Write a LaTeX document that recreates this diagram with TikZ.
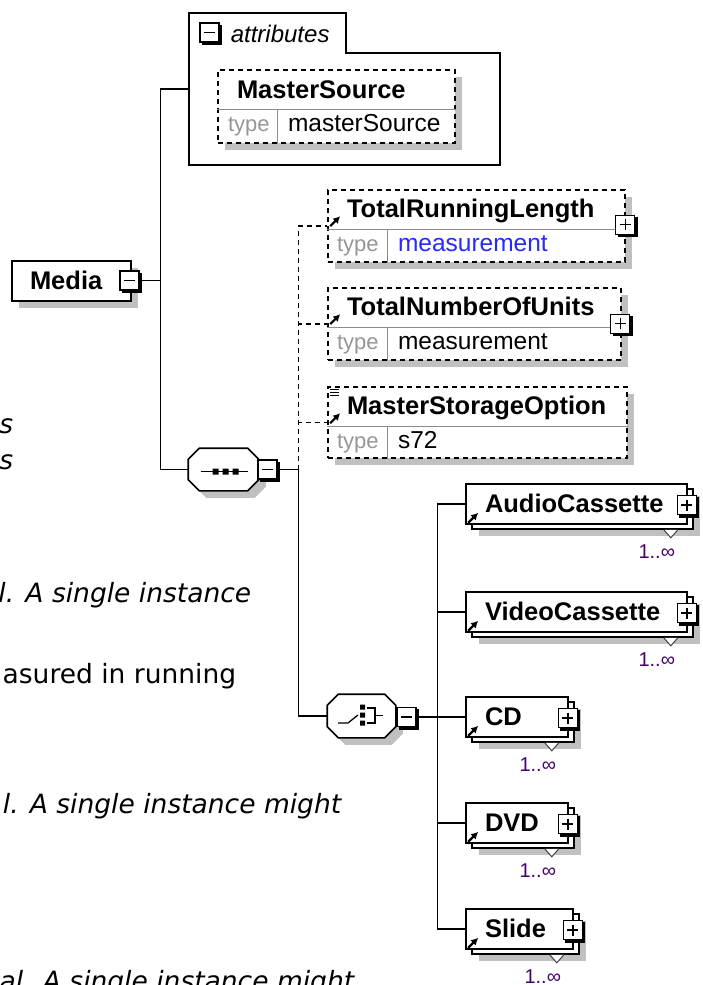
\documentclass[tikz,border=0pt]{standalone}
\usepackage{fontspec}
\setmainfont{Liberation Sans}
\newfontfamily\verdfont{DejaVu Sans}
\usetikzlibrary{arrows.meta,positioning,calc}

\definecolor{shade}{RGB}{192,192,192}
\definecolor{keygray}{RGB}{150,150,150}
\definecolor{rulegray}{RGB}{140,140,140}
\definecolor{typeblue}{RGB}{40,40,255}
\definecolor{cardpurple}{RGB}{70,0,110}

\begin{document}
\begin{tikzpicture}[
  x=1pt, y=-1pt,
  line width=1.6pt,
  shadowed/.style={preaction={fill=shade, draw=none, transform canvas={shift={(7pt,-7pt)}}}},
  box/.style={draw, fill=white, inner sep=0pt, shadowed},
  optbox/.style={box, dash pattern=on 5pt off 4pt},
  multibox/.style={
    draw, fill=white, inner sep=0pt, minimum height=40pt,
    preaction={fill=shade, draw=none, transform canvas={shift={(13pt,-12pt)}}},
    preaction={fill=white, draw=black, line width=1.6pt, transform canvas={shift={(6pt,-5pt)}}}
  },
  group/.style={inner sep=0pt, minimum height=41pt},
  octagon/.style={draw, fill=white, shadowed},
  icon/.style={
    draw, fill=white, line width=1.3pt, minimum size=19pt, inner sep=0pt,
    preaction={fill=black, draw=black, transform canvas={shift={(2.5pt,-2.5pt)}}}
  },
  minus/.style={icon, path picture={
    \draw[line width=1.5pt] ([xshift=4pt]path picture bounding box.west) -- ([xshift=-4pt]path picture bounding box.east);}},
  plus/.style={icon, path picture={
    \draw[line width=1.5pt] ([xshift=4pt]path picture bounding box.west) -- ([xshift=-4pt]path picture bounding box.east)
      ([yshift=-4pt]path picture bounding box.north) -- ([yshift=4pt]path picture bounding box.south);}},
  elname/.style={anchor=base west, inner sep=0pt, font=\fontsize{25.5}{28}\selectfont\bfseries},
  typekey/.style={anchor=base west, inner sep=0pt, text=keygray, font=\fontsize{22}{24}\selectfont},
  typeval/.style={anchor=base west, inner sep=0pt, font=\fontsize{24.5}{26}\selectfont},
  card/.style={anchor=base, inner sep=0pt, text=cardpurple, font=\fontsize{20}{22}\selectfont},
  stray/.style={anchor=base east, inner sep=0pt, font=\verdfont\fontsize{26.5}{30}\selectfont\itshape},
  rule/.style={draw=rulegray, line width=1pt},
  ref/.style={-{Latex[length=7pt,width=7.5pt]}, line width=2.2pt},
  tri/.style={draw=darkgray, fill=white, line width=1pt},
  link/.style={dash pattern=on 5pt off 4pt}
]
  \useasboundingbox (0,0) rectangle (702,985);
  \clip (0,0) rectangle (702,985);

  % text of the page behind
  \node[stray] (frag1) at (14,433) {s};
  \node[stray] (frag2) at (14,469) {s};
  \node[stray] (frag3) at (252,602) {l. A single instance};
  \node[stray, font=\verdfont\fontsize{26.5}{30}\selectfont] (frag4) at (237,683) {asured in running};
  \node[stray] (frag5) at (342,813) {l. A single instance might};
  \node[stray] (frag6) at (355,990) {al. A single instance might};

  % root
  \node[box, minimum width=119pt, minimum height=40pt] (media) at (71.5,281) {};
  \node[elname] (mediaName) at ($(media.north west)+(18,29)$) {Media};
  \node[minus] (mediaToggle) at (129.5,280.5) {};

  % attributes
  \node[inner sep=0pt, minimum width=309pt, minimum height=150pt] (attrs) at (344.5,89) {};
  \node[inner sep=0pt, minimum width=155pt, minimum height=38pt] (attrTab) at (267.5,33) {};
  \draw (attrs.south west) -- (attrs.north west) -- (attrTab.north east) -- (attrTab.south east)
    -- (attrTab.south east -| attrs.east) -- (attrs.south east) -- cycle;
  \node[minus] (attrToggle) at (209.5,32.5) {};
  \node[anchor=base west, inner sep=0pt, font=\fontsize{24}{26}\selectfont\itshape] (attrLabel) at (230,42.5) {attributes};

  \node[optbox, minimum width=237pt, minimum height=73pt] (msrc) at (336.5,106.5) {};
  \node[elname] (msrcName) at ($(msrc.north west)+(19,29)$) {MasterSource};
  \draw[rule] ($(msrc.north west)+(0,40)$) -- ($(msrc.north east)+(0,40)$);
  \draw[rule] ($(msrc.north west)+(60,40)$) -- ($(msrc.south west)+(60,0)$);
  \node[typekey] (msrcKey) at ($(msrc.north west)+(10,62.5)$) {type};
  \node[typeval] (msrcVal) at ($(msrc.north west)+(70,62.5)$) {masterSource};

  % sequence
  \node[group, minimum width=69pt] (seq) at (223.5,469.5) {};
  \draw[octagon] ([xshift=11pt]seq.north west) -- ([xshift=-11pt]seq.north east) -- ([yshift=-11pt]seq.north east)
    -- ([yshift=11pt]seq.south east) -- ([xshift=-11pt]seq.south east) -- ([xshift=11pt]seq.south west)
    -- ([yshift=11pt]seq.south west) -- ([yshift=-11pt]seq.north west) -- cycle;
  \draw[line width=1.3pt] ($(seq)+(-23,2)$) -- ($(seq)+(24,2)$);
  \fill ($(seq)+(-11,-1)$) rectangle ++(6,6) ($(seq)+(-1,-1)$) rectangle ++(6,6) ($(seq)+(9,-1)$) rectangle ++(6,6);
  \node[minus] (seqToggle) at (267.5,469.5) {};

  \node[optbox, minimum width=297pt, minimum height=72pt] (trl) at (476.5,226) {};
  \node[elname] (trlName) at ($(trl.north west)+(19,28)$) {TotalRunningLength};
  \draw[rule] ($(trl.north west)+(0,40)$) -- ($(trl.north east)+(0,40)$);
  \draw[rule] ($(trl.north west)+(60,40)$) -- ($(trl.south west)+(60,0)$);
  \node[typekey] (trlKey) at ($(trl.north west)+(9,62.5)$) {type};
  \node[typeval, text=typeblue] (trlVal) at ($(trl.north west)+(70,62.5)$) {measurement};
  \draw[ref] ($(trl.north west)+(3,37)$) -- ++(10,-10);
  \node[plus] (trlToggle) at ($(trl.north east)+(-0.5,35.5)$) {};

  \node[optbox, minimum width=293pt, minimum height=72pt] (tnu) at (474.5,324) {};
  \node[elname] (tnuName) at ($(tnu.north west)+(19,28)$) {TotalNumberOfUnits};
  \draw[rule] ($(tnu.north west)+(0,40)$) -- ($(tnu.north east)+(0,40)$);
  \draw[rule] ($(tnu.north west)+(60,40)$) -- ($(tnu.south west)+(60,0)$);
  \node[typekey] (tnuKey) at ($(tnu.north west)+(9,62.5)$) {type};
  \node[typeval] (tnuVal) at ($(tnu.north west)+(70,62.5)$) {measurement};
  \draw[ref] ($(tnu.north west)+(3,37)$) -- ++(10,-10);
  \node[plus] (tnuToggle) at ($(tnu.north east)+(-1.5,36.5)$) {};

  \node[optbox, minimum width=299pt, minimum height=71pt] (mso) at (477.5,422.5) {};
  \node[elname] (msoName) at ($(mso.north west)+(19,28)$) {MasterStorageOption};
  \draw[rule] ($(mso.north west)+(0,40)$) -- ($(mso.north east)+(0,40)$);
  \draw[rule] ($(mso.north west)+(60,40)$) -- ($(mso.south west)+(60,0)$);
  \node[typekey] (msoKey) at ($(mso.north west)+(9,62)$) {type};
  \node[typeval] (msoVal) at ($(mso.north west)+(70,62)$) {s72};
  \draw[ref] ($(mso.north west)+(3,37)$) -- ++(10,-10);
  \draw[line width=1pt] ($(mso.north west)+(3,3)$) -- ++(9,0) ($(mso.north west)+(3,6)$) -- ++(9,0)
    ($(mso.north west)+(3,9)$) -- ++(9,0);

  % choice
  \node[group, minimum width=67pt, minimum height=42pt] (choice) at (361.5,716) {};
  \draw[octagon] ([xshift=11pt]choice.north west) -- ([xshift=-11pt]choice.north east) -- ([yshift=-11pt]choice.north east)
    -- ([yshift=11pt]choice.south east) -- ([xshift=-11pt]choice.south east) -- ([xshift=11pt]choice.south west)
    -- ([yshift=11pt]choice.south west) -- ([yshift=-11pt]choice.north west) -- cycle;
  \draw[line width=1.3pt] ($(choice)+(-23.5,7)$) -- ($(choice)+(-13.5,7)$) -- ($(choice)+(-3.5,-1)$);
  \fill ($(choice)+(-1.5,-11.5)$) rectangle ++(5,5) ($(choice)+(-1.5,-3.5)$) rectangle ++(5,5)
    ($(choice)+(-1.5,4.5)$) rectangle ++(5,5);
  \draw[line width=1.3pt] ($(choice)+(5,-8)$) -- ($(choice)+(13.5,-8)$) -- ($(choice)+(13.5,7)$) -- ($(choice)+(5,7)$)
    ($(choice)+(13.5,-0.5)$) -- ($(choice)+(21,-0.5)$);
  \node[minus] (choiceToggle) at (406.5,717) {};

  \node[multibox, minimum width=221pt] (ac) at (576.5,504) {};
  \node[elname] (acName) at ($(ac.north west)+(19,29)$) {AudioCassette};
  \draw[ref] ($(ac.south west)+(3,-2)$) -- ++(10,-10);
  \node[plus] (acToggle) at ($(ac.east)+(-1,1)$) {};
  \draw[tri] ($(ac.south east)+(-24,5)$) -- ($(ac.south east)+(-17,13)$) -- ($(ac.south east)+(-10,5)$);
  \node[card] (acCard) at ($(ac.south east)+(-31,34)$) {1..∞};

  \node[multibox, minimum width=221pt] (vc) at (576.5,612) {};
  \node[elname] (vcName) at ($(vc.north west)+(19,29)$) {VideoCassette};
  \draw[ref] ($(vc.south west)+(3,-2)$) -- ++(10,-10);
  \node[plus] (vcToggle) at ($(vc.east)+(-1,1)$) {};
  \draw[tri] ($(vc.south east)+(-24,5)$) -- ($(vc.south east)+(-17,13)$) -- ($(vc.south east)+(-10,5)$);
  \node[card] (vcCard) at ($(vc.south east)+(-31,34)$) {1..∞};

  \node[multibox, minimum width=102pt] (cd) at (517,717) {};
  \node[elname] (cdName) at ($(cd.north west)+(19,29)$) {CD};
  \draw[ref] ($(cd.south west)+(3,-2)$) -- ++(10,-10);
  \node[plus] (cdToggle) at ($(cd.east)+(-1,1)$) {};
  \draw[tri] ($(cd.south east)+(-24,5)$) -- ($(cd.south east)+(-17,13)$) -- ($(cd.south east)+(-10,5)$);
  \node[card] (cdCard) at ($(cd.south east)+(-31,34)$) {1..∞};

  \node[multibox, minimum width=102pt] (dvd) at (517,823) {};
  \node[elname] (dvdName) at ($(dvd.north west)+(19,29)$) {DVD};
  \draw[ref] ($(dvd.south west)+(3,-2)$) -- ++(10,-10);
  \node[plus] (dvdToggle) at ($(dvd.east)+(-1,1)$) {};
  \draw[tri] ($(dvd.south east)+(-24,5)$) -- ($(dvd.south east)+(-17,13)$) -- ($(dvd.south east)+(-10,5)$);
  \node[card] (dvdCard) at ($(dvd.south east)+(-31,34)$) {1..∞};

  \node[multibox, minimum width=107pt] (slide) at (519.5,929) {};
  \node[elname] (slideName) at ($(slide.north west)+(19,29)$) {Slide};
  \draw[ref] ($(slide.south west)+(3,-2)$) -- ++(10,-10);
  \node[plus] (slideToggle) at ($(slide.east)+(-1,1)$) {};
  \draw[tri] ($(slide.south east)+(-24,5)$) -- ($(slide.south east)+(-17,13)$) -- ($(slide.south east)+(-10,5)$);
  \node[card] (slideCard) at ($(slide.south east)+(-31,34)$) {1..∞};

  % connectors
  \coordinate[right=21pt of mediaToggle.east] (rootFork);
  \draw (mediaToggle.east) -- (rootFork);
  \draw (rootFork) |- (attrs.west);
  \draw (rootFork) |- (seq.west);

  \coordinate[right=21pt of seqToggle.east] (seqFork);
  \draw (seqToggle.east) -- (seqFork);
  \draw[link] (seqFork) |- (trl.west);
  \draw[link] (seqFork) |- (tnu.west);
  \draw[link] (seqFork) |- (mso.west);
  \draw (seqFork) |- (choice.west);

  \coordinate[right=21pt of choiceToggle.east] (choiceFork);
  \draw (choiceToggle.east) -- (choiceFork);
  \draw (choiceFork) |- (ac.west);
  \draw (choiceFork) |- (vc.west);
  \draw (choiceFork) -- (cd.west);
  \draw (choiceFork) |- (dvd.west);
  \draw (choiceFork) |- (slide.west);
\end{tikzpicture}
\end{document}
